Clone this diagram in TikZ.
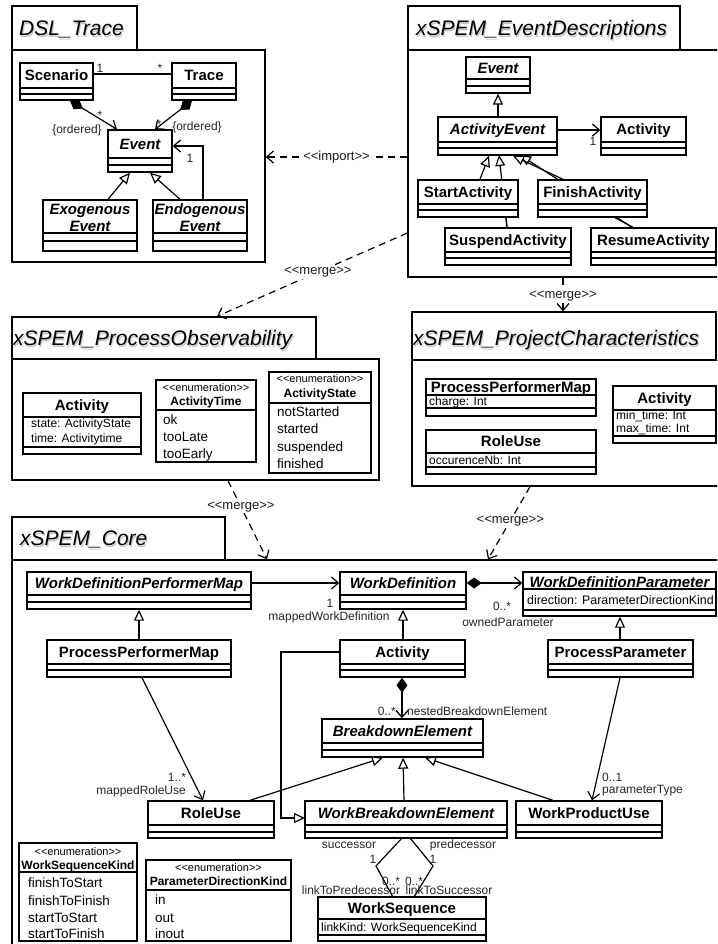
\documentclass[tikz,border=0pt]{standalone}
\usepackage{fontspec}
\setmainfont{Liberation Sans}
\usetikzlibrary{arrows.meta,fit}

\tikzset{
  pkg/.style={draw, line width=1.3pt, fill=white, inner sep=0pt},
  clsbox/.style={draw, line width=1.4pt, fill=white, inner sep=0pt},
  cline/.style={line width=1.4pt},
  cn/.style={font=\fontsize{15}{17}\selectfont\bfseries, anchor=base, inner sep=0pt},
  an/.style={font=\fontsize{15}{17}\selectfont\bfseries\itshape, anchor=base, inner sep=0pt},
  attr/.style={font=\fontsize{12}{14}\selectfont, anchor=base west, inner sep=0pt},
  lbl/.style={font=\fontsize{12}{14}\selectfont, inner sep=0pt, text=black!85},
  ster/.style={font=\fontsize{13}{15}\selectfont, fill=white, inner sep=1.5pt, text=black!90},
  ptitle/.style={font=\fontsize{21}{24}\selectfont\itshape, anchor=base west, inner sep=0pt},
  enster/.style={font=\fontsize{11}{13}\selectfont, anchor=base, inner sep=0pt},
  enname/.style={font=\fontsize{12}{14}\selectfont\bfseries, anchor=base, inner sep=0pt},
  item/.style={font=\fontsize{13.5}{16}\selectfont, anchor=base west, inner sep=0pt},
  conn/.style={line width=1.2pt},
  plain/.style={conn},
  assoc/.style={conn, -{Straight Barb[length=7pt,width=12pt]}},
  gen/.style={conn, -{Triangle[length=11pt,width=10pt,fill=white]}},
  comp/.style={conn, {Diamond[length=15pt,width=11pt]}-{Straight Barb[length=7pt,width=12pt]}},
  dep/.style={conn, dash pattern=on 7pt off 5pt, -{Straight Barb[length=7pt,width=12pt]}},
}

\newcommand{\stereo}[1]{<{}<#1>{}>}
\newcommand{\ucls}[9]{%
  \node[clsbox, fit={(#2,#3)(#4,#5)}] (#1) {};
  \draw[cline] (#2,#6) -- (#4,#6) (#2,#7) -- (#4,#7);
  \node[#8] at ({(#2+#4)/2},{(#3+#6)/2+5.4}) {#9};
}
\newcommand{\uenum}[6]{%
  \node[clsbox, fit={(#2,#3)(#4,#5)}] (#1) {};
  \draw[cline] (#2,#6) -- (#4,#6);
}
\newcommand{\ptit}[3]{%
  \node[ptitle, text=black!22] at (#1+1,#2+2) {#3};
  \node[ptitle] at (#1,#2) {#3};
}

\begin{document}
\begin{tikzpicture}[x=1pt,y=-1pt]
\useasboundingbox (0,0) rectangle (717,944);
\clip (0,0) rectangle (717,944);

% ---------------- packages ----------------
\node[pkg, fit={(12,6)(137,50)}] (dslt) {};
\node[pkg, fit={(12,50)(265,262)}] (dsl) {};
\ptit{19}{35.5}{DSL\_Trace}

\node[pkg, fit={(408,6)(680,50)}] (evdesct) {};
\node[pkg, fit={(408,50)(740,277)}] (evdesc) {};
\ptit{416}{35.5}{xSPEM\_EventDescriptions}

\node[pkg, fit={(12,317)(316,359)}] (procobst) {};
\node[pkg, fit={(12,359)(379,480)}] (procobs) {};
\ptit{13}{345}{xSPEM\_ProcessObservability}

\node[pkg, fit={(412,312)(716,360)}] (projchart) {};
\node[pkg, fit={(412,360)(740,486)}] (projchar) {};
\ptit{413}{345}{xSPEM\_ProjectCharacteristics}

\node[pkg, fit={(12,517)(225,560)}] (coret) {};
\node[pkg, fit={(12,560)(740,980)}] (core) {};
\ptit{20}{545}{xSPEM\_Core}

% ---------------- package dependencies ----------------
\draw[dep] (evdesc.west |- 0,157) -- (dsl.east |- 0,157) node[ster, midway] {\stereo{import}};
\draw[dep] (evdesc.west |- 0,233) -- (217,0 |- procobst.north) node[ster, pos=0.47] {\stereo{merge}};
\draw[dep] (563,0 |- evdesc.south) -- (563,0 |- projchart.north) node[ster, pos=0.55] {\stereo{merge}};
\draw[dep] (228,0 |- procobs.south) -- (267,0 |- core.north) node[ster, pos=0.33] {\stereo{merge}};
\draw[dep] (530,0 |- projchar.south) -- (488,0 |- core.north) node[ster, pos=0.47] {\stereo{merge}};

% ---------------- DSL_Trace ----------------
\ucls{scen}{20}{63}{93}{100}{88}{94}{cn}{Scenario}
\ucls{trace}{172}{63}{236}{100}{88}{94}{cn}{Trace}
\ucls{event}{108}{130}{172}{172}{158}{165}{an}{Event}
\ucls{exo}{43}{200}{137}{251}{233}{241}{an}{}
\ucls{endo}{153}{200}{247}{251}{233}{241}{an}{}

\draw[plain] (scen.east |- 0,74) -- (trace.west |- 0,74);
\draw[comp] (70,0 |- scen.south) -- (117,0 |- event.north);
\draw[comp] (192,0 |- trace.south) -- (155,0 |- event.north);
\draw[gen] (108,0 |- exo.north) -- (130,0 |- event.south);
\draw[gen] (180,0 |- endo.north) -- (150,0 |- event.south);
\draw[assoc] (203,0 |- endo.north) |- (event.east |- 0,146);

\node[an] at (90,214) {Exogenous};
\node[an] at (90,231) {Event};
\node[an] at (200,214) {Endogenous};
\node[an] at (200,231) {Event};

\node[lbl] at (100,68) {1};
\node[lbl] at (160,68) {*};
\node[lbl] at (100,115) {*};
\node[lbl] at (77,130) {\{ordered\}};
\node[lbl] at (159,124) {*};
\node[lbl] at (197,127) {\{ordered\}};
\node[lbl] at (190,158) {1};

% ---------------- EventDescriptions ----------------
\draw[gen] (507,228) -- (499,155);
\draw[gen] (633,228) -- (520,155);
\ucls{ev2}{466}{57}{530}{93}{79}{86}{an}{Event}
\ucls{actev}{438}{117}{557}{155}{142}{148}{an}{ActivityEvent}
\ucls{act1}{601}{117}{686}{155}{142}{148}{cn}{Activity}
\ucls{start}{418}{180}{518}{217}{204}{210}{cn}{StartActivity}
\ucls{finish}{538}{180}{647}{217}{204}{210}{cn}{FinishActivity}
\ucls{susp}{445}{228}{571}{265}{252}{258}{cn}{SuspendActivity}
\ucls{resume}{591}{228}{716}{265}{252}{258}{cn}{ResumeActivity}

\draw[gen] (498,0 |- actev.north) -- (498,0 |- ev2.south);
\draw[assoc] (actev.east |- 0,130) -- (act1.west |- 0,130);
\draw[gen] (480,0 |- start.north) -- (489,0 |- actev.south);
\draw[gen] (563,0 |- finish.north) -- (513,0 |- actev.south);
\draw[plain] (507,0 |- susp.north) -- (506,0 |- start.south);
\draw[plain] (633,0 |- resume.north) -- (615,0 |- finish.south);
\node[lbl] at (593,141) {1};

% ---------------- ProcessObservability ----------------
\ucls{act2}{23}{393}{141}{454}{417}{447}{cn}{Activity}
\node[attr] at (31,427.5) {state: ActivityState};
\node[attr] at (31,442.5) {time: Activitytime};

\uenum{acttime}{156}{380}{256}{462}{410}
\node[enster] at (206,391) {\stereo{enumeration}};
\node[enname] at (206,405.5) {ActivityTime};
\node[item] at (163,424) {ok};
\node[item] at (163,441.5) {tooLate};
\node[item] at (163,458) {tooEarly};

\uenum{actstate}{269}{372}{371}{473}{403}
\node[enster] at (320,382) {\stereo{enumeration}};
\node[enname] at (320,397.5) {ActivityState};
\node[item] at (277,416) {notStarted};
\node[item] at (277,433.5) {started};
\node[item] at (277,451) {suspended};
\node[item] at (277,468) {finished};

% ---------------- ProjectCharacteristics ----------------
\ucls{ppm1}{426}{379}{596}{416}{395}{408}{cn}{ProcessPerformerMap}
\node[attr] at (429,405) {charge: Int};
\ucls{ru1}{426}{430}{596}{474}{453}{467}{cn}{RoleUse}
\node[attr] at (429,464) {occurenceNb: Int};
\ucls{act3}{613}{386}{716}{443}{410}{436}{cn}{Activity}
\node[attr] at (616,419.5) {min\_time: Int};
\node[attr] at (616,432.5) {max\_time: Int};

% ---------------- Core ----------------
\draw[gen] (340,652) -| (281,818) -- (305,818);
\draw[plain] (402,838) -- (376,866) -- (393,897);
\draw[plain] (410,838) -- (433,866) -- (414,897);

\ucls{wdpm}{27}{572}{251}{609}{595}{602}{an}{WorkDefinitionPerformerMap}
\ucls{wd}{340}{572}{466}{609}{595}{602}{an}{WorkDefinition}
\node[clsbox, fit={(523,572)(716,616)}] (wdp) {};
\draw[cline] (523,589) -- (716,589) (523,610) -- (716,610);
\node[an] at (619.5,587) {WorkDefinitionParameter};
\node[attr, font=\fontsize{12.4}{14}\selectfont] at (527,604) {direction: ParameterDirectionKind};

\ucls{ppm}{47}{640}{231}{677}{664}{670}{cn}{ProcessPerformerMap}
\ucls{act}{340}{640}{465}{677}{664}{670}{cn}{Activity}
\ucls{pp}{548}{640}{693}{677}{664}{670}{cn}{ProcessParameter}
\ucls{be}{322}{719}{483}{757}{743}{750}{an}{BreakdownElement}
\ucls{ru}{148}{801}{274}{838}{825}{832}{cn}{RoleUse}
\ucls{wbe}{305}{801}{507}{838}{825}{832}{an}{WorkBreakdownElement}
\ucls{wpu}{516}{801}{662}{838}{825}{832}{cn}{WorkProductUse}
\ucls{ws}{318}{897}{486}{941}{919}{935}{cn}{WorkSequence}
\node[attr] at (321,931) {linkKind: WorkSequenceKind};

\draw[assoc] (wdpm.east |- 0,583) -- (wd.west |- 0,583);
\draw[comp] (wd.east |- 0,583) -- (wdp.west |- 0,583);
\draw[gen] (139,0 |- ppm.north) -- (139,0 |- wdpm.south);
\draw[gen] (403,0 |- act.north) -- (403,0 |- wd.south);
\draw[gen] (620,0 |- pp.north) -- (620,0 |- wdp.south);
\draw[comp] (402,0 |- act.south) -- (402,0 |- be.north);
\draw[assoc] (142,0 |- ppm.south) -- (203,0 |- ru.north);
\draw[assoc] (620,0 |- pp.south) -- (592,0 |- wpu.north);
\draw[gen] (250,0 |- ru.north) -- (383,0 |- be.south);
\draw[gen] (404,0 |- wbe.north) -- (403,0 |- be.south);
\draw[gen] (553,0 |- wpu.north) -- (425,0 |- be.south);

\node[lbl] at (330,603) {1};
\node[lbl] at (329,617) {mappedWorkDefinition};
\node[lbl] at (502,606) {0..*};
\node[lbl] at (508,622) {ownedParameter};
\node[lbl, anchor=east] at (396,711) {0..*};
\node[lbl, anchor=west] at (407,711) {nestedBreakdownElement};
\node[lbl] at (177,777) {1..*};
\node[lbl, anchor=east] at (186,791) {mappedRoleUse};
\node[lbl, anchor=west] at (602,777) {0..1};
\node[lbl, anchor=west] at (602,791) {parameterType};
\node[lbl] at (349,845) {successor};
\node[lbl] at (463,845) {predecessor};
\node[lbl] at (373,859) {1};
\node[lbl] at (433,859) {1};
\node[lbl] at (391,881) {0..*};
\node[lbl] at (414,881) {0..*};
\node[lbl] at (351,890) {linkToPredecessor};
\node[lbl] at (449,890) {linkToSuccessor};

\uenum{wsk}{19}{843}{137}{941}{872}
\node[enster] at (78,855.5) {\stereo{enumeration}};
\node[enname] at (78,869) {WorkSequenceKind};
\node[item] at (28,887) {finishToStart};
\node[item] at (28,905) {finishToFinish};
\node[item] at (28,922.5) {startToStart};
\node[item] at (28,938.5) {startToFinish};

\uenum{pdk}{146}{860}{291}{941}{890}
\node[enster] at (218.5,871.5) {\stereo{enumeration}};
\node[enname] at (218.5,885.5) {ParameterDirectionKind};
\node[item] at (155,904.5) {in};
\node[item] at (155,922) {out};
\node[item] at (155,938.5) {inout};
\end{tikzpicture}
\end{document}
